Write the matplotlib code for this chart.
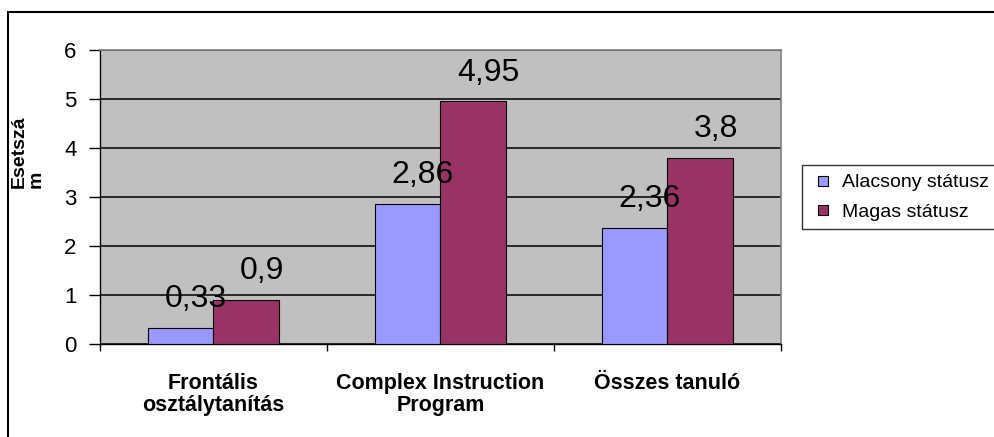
import numpy as np
import matplotlib.pyplot as plt
from matplotlib.lines import Line2D
from matplotlib.patches import Rectangle

plt.rcParams['font.family'] = ['Liberation Sans', 'DejaVu Sans']

categories = ['Frontális\nosztálytanítás', 'Complex Instruction\nProgram', 'Összes tanuló']
series_names = ['Alacsony státusz', 'Magas státusz']
alacsony = [0.33, 2.86, 2.36]
magas = [0.9, 4.95, 3.8]
labels_alacsony = ['0,33', '2,86', '2,36']
labels_magas = ['0,9', '4,95', '3,8']
colors = ['#9999FF', '#993366']

W, H = 995, 437
fig = plt.figure(figsize=(W / 100, H / 100), dpi=100)
ax = fig.add_axes([100 / W, 1 - 344 / H, 681 / W, 294 / H])
ax.set_facecolor('#C0C0C0')

x = np.arange(len(categories))
w = 0.29
b1 = ax.bar(x - w / 2, alacsony, w, color=colors[0], edgecolor='black', linewidth=0.8, zorder=3)
b2 = ax.bar(x + w / 2, magas, w, color=colors[1], edgecolor='black', linewidth=0.8, zorder=3)

for bars, labs in [(b1, labels_alacsony), (b2, labels_magas)]:
    for r, t in zip(bars, labs):
        ax.annotate(t, (r.get_x() + r.get_width() / 2, r.get_height()),
                    xytext=(11, 10), textcoords='offset points',
                    ha='center', va='bottom', fontsize=23, zorder=4)

ax.set_xlim(-0.5, 2.5)
ax.set_ylim(0, 6)
ax.set_yticks(range(7))
ax.yaxis.grid(True, color='black', linewidth=1.1)
ax.set_axisbelow(True)
ax.tick_params(axis='y', length=8, width=1, labelsize=16, pad=9)

ax.set_xticks(x)
ax.set_xticklabels(categories, fontsize=15.5, fontweight='bold', linespacing=1.05)
ax.set_xticks([-0.5, 0.5, 1.5, 2.5], minor=True)
ax.tick_params(axis='x', which='major', length=0, pad=21)
ax.tick_params(axis='x', which='minor', length=5, width=1)

for s in ['top', 'right']:
    ax.spines[s].set_color('#808080')
    ax.spines[s].set_linewidth(1.2)
for s in ['left', 'bottom']:
    ax.spines[s].set_color('black')
    ax.spines[s].set_linewidth(1)

fig.text(28 / W, 1 - 188 / H, 'Esetszá\nm', rotation=90, ha='center', va='bottom',
         multialignment='left', fontsize=14, fontweight='bold', linespacing=1.0)

handles = [Line2D([], [], marker='s', linestyle='none', markersize=6.5,
                  markerfacecolor=c, markeredgecolor='black', markeredgewidth=0.8)
           for c in colors]
leg = fig.legend(handles, series_names, loc='upper left',
                 bbox_to_anchor=(802 / W, 1 - 233 / H, 220 / W, 68 / H), mode='expand',
                 fontsize=14, frameon=True, fancybox=False, borderpad=0.45,
                 handlelength=1.3, handletextpad=0.3, labelspacing=0.6, borderaxespad=0)
leg.get_frame().set_edgecolor('black')
leg.get_frame().set_linewidth(1)

fig.patches.append(Rectangle((8 / W, -0.1), 1.2, 1.1 - 12 / H, transform=fig.transFigure,
                             fill=False, edgecolor='black', linewidth=1.5))

fig.savefig('out.png', dpi=100)
